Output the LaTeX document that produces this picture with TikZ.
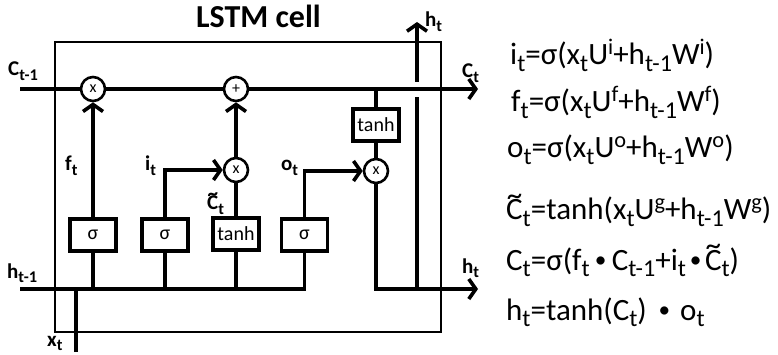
\documentclass[tikz,border=0pt]{standalone}
\usepackage{fontspec}
\usepackage{graphicx}
\setmainfont{Carlito}
\usetikzlibrary{arrows.meta}
\newcommand\sbx[1]{\raisebox{-0.2em}{\scalebox{0.78}{#1}}}
\newcommand\spx[1]{\raisebox{0.33em}{\scalebox{0.72}{#1}}}
\newcommand\tC{\leavevmode\ooalign{C\cr\hfil\raisebox{0.47em}{\textasciitilde}\hfil\cr}}
\newcommand\mdot{\raisebox{0.09em}{\scalebox{0.75}{•}}}
\tikzset{
  conn/.style={line width=3.6pt},
  arr/.style={conn, -{Straight Barb[length=7pt,width=20pt]}},
  gate/.style={draw, line width=3.3pt, minimum width=46pt, minimum height=32pt, inner sep=0pt, font=\fontsize{20}{22}\selectfont},
  op/.style={circle, draw, line width=2.6pt, minimum size=24pt, inner sep=0pt, font=\fontsize{16}{17}\selectfont},
  lbl/.style={font=\fontsize{21}{23}\selectfont\bfseries, inner sep=0pt, anchor=base west},
  eq/.style={font=\fontsize{31}{34}\selectfont, inner sep=0pt, anchor=base west},
  frame/.style={draw, line width=2.7pt},
}
\begin{document}
\begin{tikzpicture}[x=1pt,y=-1pt]
\useasboundingbox (0,0) rectangle (778,355);
% title
\node[font=\fontsize{32}{35}\selectfont\bfseries, inner sep=0pt, anchor=base] (title) at (258.5,28) {LSTM cell};
% frame
\draw[frame] (55,42) rectangle (441,332);
% nodes
\node[op] (m1) at (93,89) {x};
\node[op] (add) at (236,89) {+};
\node[op] (m2) at (236,170) {x};
\node[op] (m3) at (376,171) {x};
\node[gate] (sf) at (93,235) {σ};
\node[gate] (si) at (165,235) {σ};
\node[gate] (tg) at (236,234) {tanh};
\node[gate] (so) at (304.5,235) {σ};
\node[gate] (tc) at (376,125) {tanh};
% coordinates
\coordinate (cs) at (20,89);
\coordinate (ce) at (478,89);
\coordinate (hs) at (20,289);
\coordinate (he) at (478,289);
\coordinate (xs) at (76,352);
\coordinate (xh) at (76,289);
\coordinate (cj) at (376,89);
\coordinate (hb) at (417,289);
\coordinate (hg1) at (417,97);
\coordinate (hg2) at (417,82);
\coordinate (ht) at (417,22);
% cell state line
\draw[conn] (cs) -- (m1);
\draw[conn] (m1) -- (add);
\draw[arr] (add) -- (ce);
% hidden input line
\draw[conn] (hs) -- (so.south |- hs) -- (so.south);
\draw[conn] (sf.south) -- (sf.south |- hs);
\draw[conn] (si.south) -- (si.south |- hs);
\draw[conn] (tg.south) -- (tg.south |- hs);
\draw[conn] (xs) -- (xh);
% gates
\draw[arr] (sf) -- (m1);
\draw[arr] (si.north) |- (m2);
\draw[conn] (tg) -- (m2);
\draw[arr] (m2) -- (add);
\draw[arr] (so.north) |- (m3);
\draw[conn] (cj) -- (tc);
\draw[conn] (tc) -- (m3);
\draw[arr] (m3) |- (he);
\draw[conn] (hb) -- (hg1);
\draw[arr] (hg2) -- (ht);
% labels
\node[lbl] (lc1) at (8,76) {C\sbx{t-1}};
\node[lbl] (lh1) at (7,278) {h\sbx{t-1}};
\node[lbl] (lx) at (47,346) {x\sbx{t}};
\node[lbl] (lf) at (65,171) {f\sbx{t}};
\node[lbl] (li) at (145,171) {i\sbx{t}};
\node[lbl] (lo) at (281,171) {o\sbx{t}};
\node[lbl] (lct) at (207,210) {\tC\sbx{t}};
\node[lbl] (lc) at (462,78) {C\sbx{t}};
\node[lbl] (lht) at (425,27) {h\sbx{t}};
\node[lbl] (lh) at (462,273) {h\sbx{t}};
% equations
\node[eq] (e1) at (510,65) {i\sbx{t}=σ(x\sbx{t}U\spx{i}+h\sbx{t-1}W\spx{i})};
\node[eq] (e2) at (511,112) {f\sbx{t}=σ(x\sbx{t}U\spx{f}+h\sbx{t-1}W\spx{f})};
\node[eq] (e3) at (507,158) {o\sbx{t}=σ(x\sbx{t}U\spx{o}+h\sbx{t-1}W\spx{o})};
\node[eq] (e4) at (506,220) {\tC\sbx{t}=tanh(x\sbx{t}U\spx{g}+h\sbx{t-1}W\spx{g})};
\node[eq] (e5) at (506,270) {C\sbx{t}=σ(f\sbx{t}\hspace{0.17em}\mdot\hspace{0.17em}C\sbx{t-1}+i\sbx{t}\hspace{0.12em}\mdot\hspace{0.12em}\tC\sbx{t})};
\node[eq] (e6) at (506,320) {h\sbx{t}=tanh(C\sbx{t})\hspace{0.38em}\mdot\hspace{0.32em}o\sbx{t}};
\end{tikzpicture}
\end{document}
